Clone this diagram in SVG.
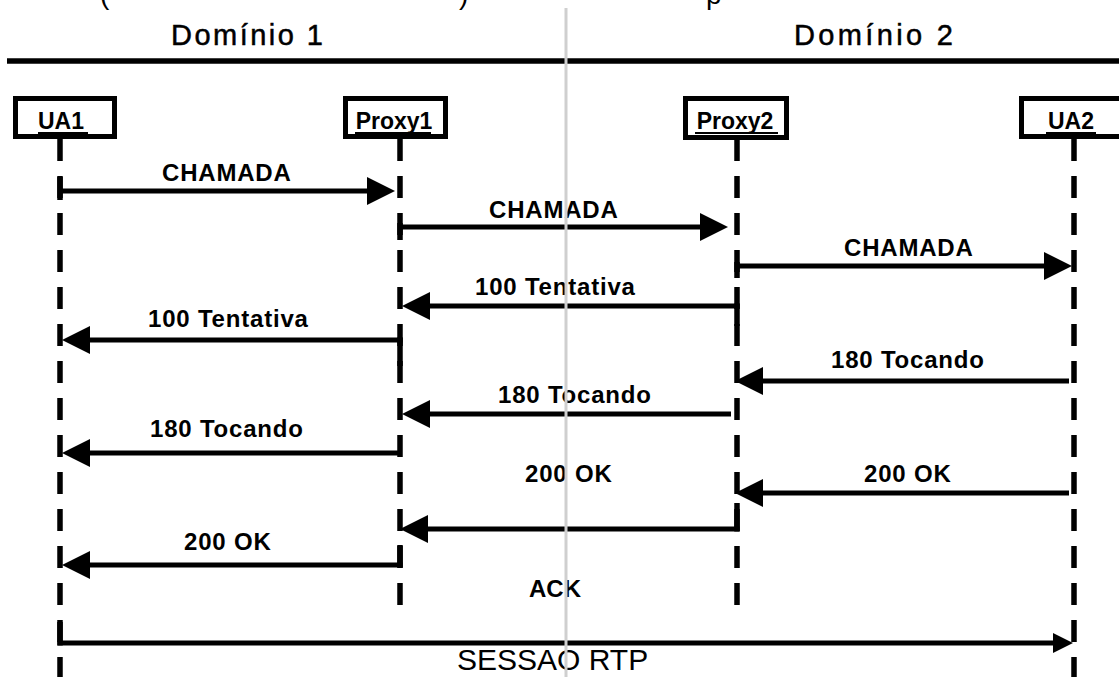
<svg xmlns="http://www.w3.org/2000/svg" width="1119" height="677" viewBox="0 0 1119 677">
<style>
.hdr{font-family:"Liberation Sans",Arial,sans-serif;font-size:29px;fill:#000;stroke:#000;stroke-width:0.5}
.frag{font-family:"Liberation Sans",Arial,sans-serif;font-size:28px;fill:#000}
.nl{font-family:"Liberation Sans",Arial,sans-serif;font-size:23px;font-weight:bold;fill:#000;text-anchor:middle}
.lbl{font-family:"Liberation Sans",Arial,sans-serif;font-size:24px;font-weight:bold;fill:#000;letter-spacing:0.8px}
.box{fill:#fff;stroke:#000;stroke-width:5}
.ul{stroke:#000;stroke-width:2}
.life{stroke:#000;stroke-width:5.5;stroke-dasharray:22 15;fill:none}
.msg{stroke:#000;stroke-width:5;fill:none;marker-end:url(#ah)}
.tick{stroke:#000;stroke-width:5.5}
</style>
<defs>
<marker id="ah" markerUnits="userSpaceOnUse" markerWidth="28" markerHeight="28" viewBox="0 0 28 28" refX="0" refY="14" orient="auto">
<path d="M0,0 L28,14 L0,28 Z" fill="#000"/>
</marker>
<marker id="ahs" markerUnits="userSpaceOnUse" markerWidth="20" markerHeight="20" viewBox="0 0 20 20" refX="0" refY="10" orient="auto">
<path d="M0,0 L20,10 L0,20 Z" fill="#000"/>
</marker>
</defs>
<rect width="1119" height="677" fill="#fff"/>
<g id="fragments" class="frag">
<text x="100" y="4">(</text>
<text x="459" y="4">)</text>
<text x="706" y="4">p</text>
</g>
<g id="header">
<text class="hdr" x="171" y="45" textLength="152" lengthAdjust="spacing">Domínio 1</text>
<text class="hdr" x="794" y="45" textLength="159" lengthAdjust="spacing">Domínio 2</text>
<line x1="7" y1="61" x2="1119" y2="61" stroke="#000" stroke-width="5.5"/>
</g>
<g id="UA1">
<line class="life" x1="60" y1="139" x2="60" y2="677"/>
<rect class="box" x="15.5" y="98.5" width="99" height="38"/>
<text class="nl" x="61" y="129">UA1</text>
<line class="ul" x1="38" y1="133" x2="88" y2="133"/>
</g>
<g id="Proxy1">
<line class="life" x1="400" y1="139" x2="400" y2="608"/>
<rect class="box" x="345.5" y="98.5" width="100" height="38"/>
<text class="nl" x="394" y="129">Proxy1</text>
<line class="ul" x1="355" y1="133" x2="431" y2="133"/>
</g>
<g id="Proxy2">
<line class="life" x1="737" y1="139" x2="737" y2="608"/>
<rect class="box" x="685.5" y="98.5" width="101" height="39"/>
<text class="nl" x="735" y="129">Proxy2</text>
<line class="ul" x1="695" y1="133" x2="778" y2="133"/>
</g>
<g id="UA2">
<line class="life" x1="1074" y1="139" x2="1074" y2="677"/>
<rect class="box" x="1021.5" y="98.5" width="110" height="38"/>
<text class="nl" x="1071" y="129">UA2</text>
<line class="ul" x1="1046" y1="133" x2="1096" y2="133"/>
</g>
<g id="connectors">
<line class="tick" x1="60" y1="177" x2="60" y2="200"/>
<line class="msg" x1="60" y1="191" x2="367" y2="191"/>
<text class="lbl" x="162" y="181">CHAMADA</text>

<line class="tick" x1="400" y1="223" x2="400" y2="240"/>
<line class="msg" x1="400" y1="227" x2="700" y2="227"/>
<text class="lbl" x="489" y="218">CHAMADA</text>

<line class="tick" x1="737" y1="262" x2="737" y2="278"/>
<line class="msg" x1="737" y1="266" x2="1044" y2="266"/>
<text class="lbl" x="844" y="256">CHAMADA</text>

<line class="tick" x1="737" y1="303.5" x2="737" y2="326"/>
<line class="msg" x1="739.5" y1="306" x2="430" y2="306"/>
<text class="lbl" x="475" y="295">100 Tentativa</text>

<line class="tick" x1="400" y1="337.5" x2="400" y2="366"/>
<line class="msg" x1="402.5" y1="340" x2="90" y2="340"/>
<text class="lbl" x="148" y="327">100 Tentativa</text>

<line class="msg" x1="1069" y1="381" x2="763" y2="381"/>
<text class="lbl" x="831" y="368">180 Tocando</text>

<line class="msg" x1="731" y1="414" x2="430" y2="414"/>
<text class="lbl" x="498" y="403">180 Tocando</text>

<line class="msg" x1="398" y1="453" x2="90" y2="453"/>
<text class="lbl" x="150" y="437">180 Tocando</text>

<text class="lbl" x="525" y="482">200 OK</text>

<line class="msg" x1="1069" y1="493" x2="763" y2="493"/>
<text class="lbl" x="864" y="482">200 OK</text>

<line class="tick" x1="737" y1="503" x2="737" y2="531.5"/>
<line class="msg" x1="739.5" y1="529" x2="428" y2="529"/>

<line class="tick" x1="400" y1="545" x2="400" y2="567.5"/>
<line class="msg" x1="402.5" y1="565" x2="90" y2="565"/>
<text class="lbl" x="184" y="550">200 OK</text>

<text class="lbl" x="529" y="597" style="letter-spacing:0">ACK</text>

<line class="tick" x1="60" y1="622" x2="60" y2="645.5"/>
<line x1="57.5" y1="643" x2="1053" y2="643" stroke="#000" stroke-width="5" marker-end="url(#ahs)"/>
<text x="457" y="670" style="font-family:'Liberation Sans',Arial,sans-serif;font-size:30px;fill:#000">SESSAO RTP</text>
</g>
<line id="divider" x1="566" y1="8" x2="566" y2="677" stroke="#cfcfcf" stroke-width="3"/>
</svg>
